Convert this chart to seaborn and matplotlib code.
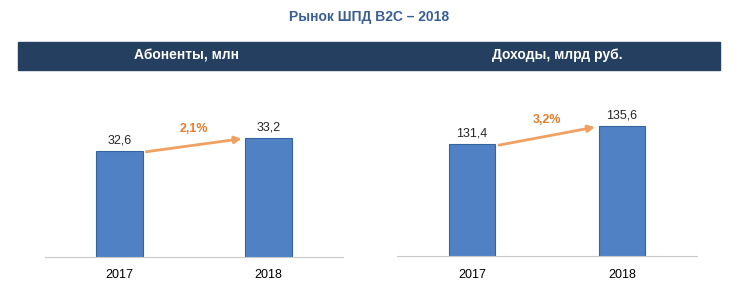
import matplotlib
matplotlib.use("Agg")
import matplotlib.pyplot as plt
import seaborn as sns
import pandas as pd
from matplotlib.patches import Rectangle

sns.set_style("white")
plt.rcParams['font.family'] = ['Liberation Sans', 'DejaVu Sans']

years = ["2017", "2018"]
subscribers = [32.6, 33.2]
revenue = [131.4, 135.6]
subs_labels = ["32,6", "33,2"]
rev_labels = ["131,4", "135,6"]
subs_growth = "2,1%"
rev_growth = "3,2%"
title = "Рынок ШПД B2C – 2018"
panel_titles = ["Абоненты, млн", "Доходы, млрд руб."]

W, H = 738, 298
fig = plt.figure(figsize=(W / 100, H / 100), dpi=100)

def px_axes(x0, y0, x1, y1):
    return fig.add_axes([x0 / W, 1 - y1 / H, (x1 - x0) / W, (y1 - y0) / H])

# title and header band
fig.text(369 / W, 1 - 17 / H, title, ha="center", va="center",
         fontsize=10, fontweight="bold", color="#3b5f93")
fig.patches.append(Rectangle((18 / W, 1 - 70 / H), (720 - 18) / W, 28 / H,
                             transform=fig.transFigure, color="#243f60", zorder=0))
fig.text(187 / W, 1 - 56 / H, panel_titles[0], ha="center", va="center",
         fontsize=10, fontweight="bold", color="white")
fig.text(557 / W, 1 - 55 / H, panel_titles[1], ha="center", va="center",
         fontsize=10, fontweight="bold", color="white")

bar_color = "#4f81c4"
edge_color = "#3565a0"
arrow_color = "#f0a060"
growth_color = "#e87d2a"

panels = [
    (px_axes(45, 80, 343, 257), subscribers, subs_labels, subs_growth, (27.7, 35.87)),
    (px_axes(397, 80, 697, 256), revenue, rev_labels, rev_growth, (105.3, 146.4)),
]

pt = 72 / 100  # points per pixel

for ax, vals, labels, growth, ylim in panels:
    df = pd.DataFrame({"year": years, "value": vals})
    sns.barplot(data=df, x="year", y="value", ax=ax, color=bar_color,
                width=0.31, edgecolor=edge_color, linewidth=0.8, saturation=1)
    ax.set_ylim(*ylim)
    ax.set_xlim(-0.5, 1.5)
    ax.set_xlabel("")
    ax.set_ylabel("")
    ax.set_yticks([])
    for s in ["top", "right", "left"]:
        ax.spines[s].set_visible(False)
    ax.spines["bottom"].set_color("#c8c8c8")
    ax.spines["bottom"].set_linewidth(0.8)
    ax.tick_params(axis="x", length=0, labelsize=9, pad=9, colors="black")
    ax.set_xticks([-0.5, 0.5, 1.5], minor=True)
    ax.tick_params(axis="x", which="minor", length=4, color="#c8c8c8", width=0.8)
    span = ylim[1] - ylim[0]
    for i, (v, lab) in enumerate(zip(vals, labels)):
        ax.annotate(lab, xy=(i, v), xytext=(0, 10.5 * pt), textcoords="offset points",
                    ha="center", va="center", fontsize=9)
    # growth arrow
    y0 = vals[0] - span * 0.005
    y1 = vals[1] - span * 0.005
    ax.annotate("", xy=(0.82, y1), xytext=(0.18, y0),
                arrowprops=dict(arrowstyle="-|>", color=arrow_color, lw=2,
                                mutation_scale=10, shrinkA=0, shrinkB=0))
    ax.annotate(growth, xy=(0.5, (y0 + y1) / 2), xytext=(0, 16 * pt),
                textcoords="offset points", ha="center", va="center",
                fontsize=9, fontweight="bold", color=growth_color)

fig.savefig("out.png", dpi=100, facecolor="white")
